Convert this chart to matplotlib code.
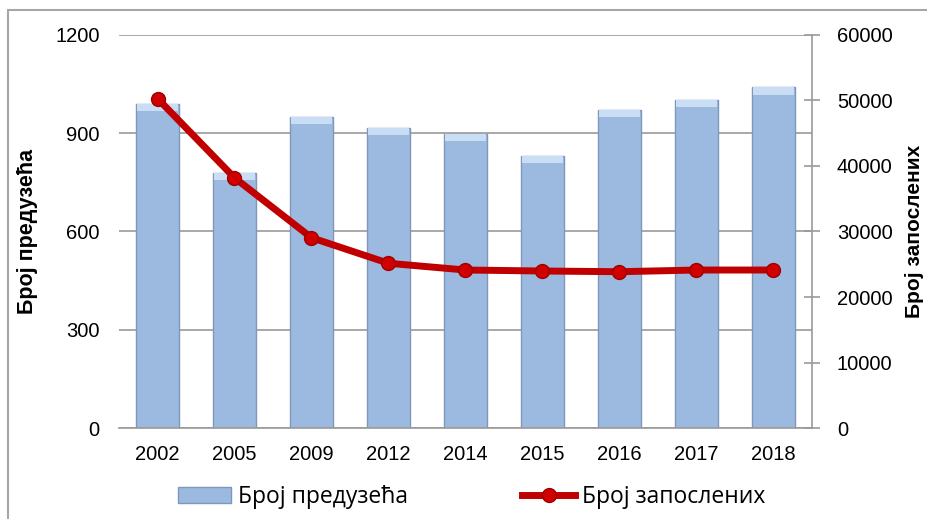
import matplotlib
matplotlib.use('Agg')
import matplotlib.pyplot as plt
from matplotlib.lines import Line2D
from matplotlib.patches import Patch, Rectangle
import numpy as np

years = ['2002', '2005', '2009', '2012', '2014', '2015', '2016', '2017', '2018']
preduzeca = [989, 780, 949, 916, 898, 831, 971, 1002, 1040]
zaposleni = [50300, 38200, 29050, 25150, 24120, 23970, 23860, 24120, 24120]

plt.rcParams['font.family'] = ['Liberation Sans', 'DejaVu Sans']

fig = plt.figure(figsize=(9.27, 5.19), dpi=100)
ax = fig.add_axes([119 / 927, 0.1753, (812 - 119) / 927, 0.9326 - 0.1753])
ax2 = ax.twinx()

x = np.arange(len(years))
vals = np.array(preduzeca)
bar_w = 0.57
ax.bar(x, vals, width=bar_w, color='#9CBAE0', edgecolor='#7E97BA',
       linewidth=1.0, zorder=2)
# light bevel on top of each bar
band = 22
ax.bar(x, band, bottom=vals - band, width=bar_w * 0.92, color='#C9DDF5',
       linewidth=0, zorder=3)

ax2.plot(x, zaposleni, color='#C00000', lw=5, zorder=4, solid_capstyle='round')
ax2.plot(x, zaposleni, 'o', color='#D00000', markersize=10,
         markeredgecolor='#A00000', zorder=5)

ax.set_xlim(-0.5, len(years) - 0.5)
ax.set_ylim(0, 1200)
ax.set_yticks([0, 300, 600, 900, 1200])
ax2.set_ylim(0, 60000)
ax2.set_yticks(range(0, 60001, 10000))
ax.set_xticks(x)
ax.set_xticklabels(years)

ax.yaxis.grid(True, color='#9A9A9A', lw=1.2, zorder=0)
ax.set_axisbelow(True)
for s in ['top', 'right', 'left']:
    ax.spines[s].set_visible(False)
ax.spines['bottom'].set_color('#9A9A9A')
ax.spines['bottom'].set_linewidth(1.2)
for s in ['top', 'left', 'bottom']:
    ax2.spines[s].set_visible(False)
ax2.spines['right'].set_color('#9A9A9A')
ax2.spines['right'].set_linewidth(1.2)

ax.tick_params(axis='y', length=0, labelsize=14.5, pad=14)
ax.tick_params(axis='x', length=0, labelsize=14.5, pad=12)
ax2.tick_params(axis='y', direction='inout', length=12, color='#9A9A9A',
                width=1.2, labelsize=14.5, pad=12)

ax.set_ylabel('Број предузећа', fontsize=15.5, fontweight='bold', labelpad=12)
ax2.set_ylabel('Број запослених', fontsize=15, fontweight='bold', labelpad=9)

handles = [
    Patch(facecolor='#9CBAE0', edgecolor='#7E97BA'),
    Line2D([0], [0], color='#C00000', lw=5, marker='o', markersize=10,
           markerfacecolor='#D00000', markeredgecolor='#A00000'),
]
fig.legend(handles, ['Број предузећа', 'Број запослених'], loc='lower center',
           bbox_to_anchor=(0.509, -0.02), ncol=2, frameon=False,
           prop={'family': ['Open Sans', 'DejaVu Sans'], 'size': 16.5},
           handlelength=2.3, handletextpad=0.3, columnspacing=5.0)

fig.patches.append(Rectangle((8 / 927, -0.05), 1.2, 1 - 10 / 519 + 0.05,
                             transform=fig.transFigure, fill=False,
                             edgecolor='#A6A6A6', lw=1.5))

fig.savefig('out.png', dpi=100)
